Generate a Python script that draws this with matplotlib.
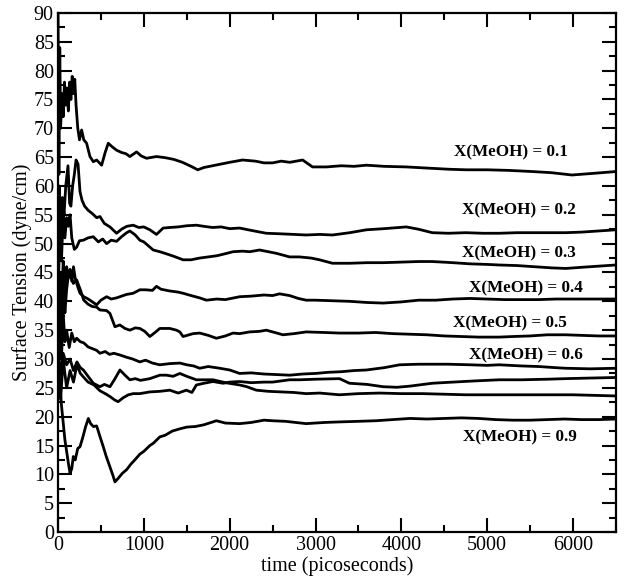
import matplotlib
matplotlib.use("Agg")
import matplotlib.pyplot as plt
from matplotlib.ticker import MultipleLocator

plt.rcParams['font.family'] = ['Liberation Serif', 'DejaVu Serif']

# running averages of surface tension
t_01 = [0, 10, 20, 30, 45, 60, 75, 90, 105, 120, 135, 150, 165, 180, 195, 210, 230, 250, 275, 300,
        333, 372, 411, 450, 508, 547, 585, 630, 682, 740, 790, 837, 915, 970, 1031, 1147, 1250, 1350,
        1450, 1550, 1628, 1700, 1800, 1900, 2000, 2150, 2300, 2400, 2500, 2600, 2700, 2850, 2965,
        3128, 3300, 3450, 3593, 3800, 4058, 4300, 4550, 4756, 5000, 5250, 5523, 5750, 5988, 6250, 6500]
y_01 = [90, 62, 84, 70, 76, 72, 78, 74, 77, 73, 78, 75, 79, 76, 78.5, 74, 70, 68, 69.7, 68,
        67.4, 65.1, 64.2, 64.5, 63.6, 65.7, 67.4, 66.8, 66.2, 65.8, 65.6, 65.1, 65.9, 65.2, 64.8, 65.1, 64.9, 64.6,
        64.1, 63.4, 62.8, 63.2, 63.5, 63.8, 64.1, 64.5, 64.3, 64.0, 64.0, 64.3, 64.1, 64.5, 63.3,
        63.3, 63.5, 63.4, 63.6, 63.4, 63.3, 63.1, 62.9, 62.8, 62.8, 62.7, 62.5, 62.3, 61.9, 62.2, 62.5]

t_02 = [0, 15, 30, 50, 70, 90, 116, 135, 150, 170, 190, 210, 233, 256, 280, 310, 350, 400, 450, 488,
        540, 605, 682, 740, 800, 876, 940, 1000, 1070, 1147, 1225, 1300, 1400, 1500, 1612, 1700, 1800,
        1900, 2000, 2116, 2250, 2426, 2600, 2750, 2891, 3050, 3198, 3400, 3593, 3800, 4058, 4200, 4360,
        4550, 4750, 4950, 5140, 5350, 5550, 5750, 5916, 6100, 6300, 6500]
y_02 = [45, 60, 52, 58, 55, 60, 63.5, 57, 56.5, 60, 62, 64.5, 63.8, 59, 57.5, 56.5, 55.8, 55.2, 54.5, 54.7,
        53.5, 52.9, 51.8, 52.5, 53.0, 53.2, 52.8, 52.9, 52.4, 51.6, 52.7, 52.8, 52.9, 53.1, 53.2, 53.0, 52.8,
        52.9, 52.6, 52.7, 52.3, 51.8, 51.7, 51.6, 51.5, 51.6, 51.5, 51.9, 52.4, 52.6, 52.9, 52.5, 51.9,
        51.8, 51.9, 51.8, 51.8, 51.9, 51.9, 51.9, 51.9, 52.0, 52.2, 52.4]

t_03 = [0, 20, 40, 60, 80, 100, 120, 140, 160, 190, 217, 250, 295, 350, 411, 470, 520, 566, 620, 682,
        740, 800, 837, 900, 953, 1000, 1109, 1186, 1250, 1350, 1457, 1550, 1650, 1750, 1850, 1961, 2039,
        2150, 2233, 2349, 2450, 2550, 2698, 2814, 2950, 3047, 3198, 3400, 3600, 3787, 4000, 4200, 4360,
        4600, 4800, 5000, 5140, 5350, 5550, 5750, 5916, 6100, 6300, 6500]
y_03 = [40, 52, 47, 55, 51, 54.5, 53, 55, 51, 49, 49.4, 50.5, 50.6, 51.0, 51.2, 50.3, 50.8, 50.0, 50.6, 50.4,
        51.2, 51.9, 52.2, 51.5, 50.6, 50.3, 48.9, 48.6, 48.3, 47.8, 47.2, 47.2, 47.5, 47.7, 47.9, 48.3, 48.6,
        48.7, 48.6, 48.9, 48.6, 48.3, 47.7, 47.7, 47.5, 47.2, 46.6, 46.6, 46.7, 46.7, 46.8, 46.9, 46.9,
        46.7, 46.5, 46.4, 46.3, 46.2, 46.0, 45.8, 45.7, 45.9, 46.1, 46.3]

t_04 = [0, 20, 40, 60, 80, 100, 120, 140, 160, 180, 200, 230, 256, 300, 340, 372, 410, 450, 500, 566,
        620, 682, 740, 800, 876, 953, 1020, 1100, 1147, 1200, 1300, 1400, 1457, 1550, 1650, 1729, 1850,
        1950, 2116, 2250, 2400, 2500, 2581, 2698, 2800, 2891, 3000, 3200, 3400, 3600, 3787, 4000, 4200,
        4400, 4600, 4800, 5000, 5200, 5400, 5600, 5800, 6000, 6200, 6500]
y_04 = [30, 45, 38, 47, 42, 46, 44, 45.5, 43.5, 46, 44, 42.5, 41.4, 40.8, 40.5, 40.2, 39.8, 39.4, 40.2, 40.8,
        40.4, 40.6, 40.9, 41.2, 41.4, 42.0, 42.0, 41.9, 42.6, 42.1, 41.8, 41.6, 41.4, 41.0, 40.6, 40.2, 40.4,
        40.3, 40.8, 40.9, 41.1, 41.0, 41.3, 41.0, 40.5, 40.2, 40.2, 40.1, 40.0, 39.8, 39.7, 39.9, 40.2,
        40.2, 40.4, 40.5, 40.4, 40.3, 40.3, 40.3, 40.4, 40.4, 40.4, 40.4]

t_05 = [0, 20, 40, 60, 80, 100, 120, 140, 160, 178, 217, 260, 300, 350, 400, 450, 488, 566, 605, 663,
        721, 780, 837, 900, 953, 1010, 1070, 1130, 1186, 1302, 1380, 1419, 1457, 1574, 1651, 1750, 1845,
        1950, 2039, 2116, 2233, 2350, 2426, 2550, 2620, 2750, 2891, 3100, 3279, 3500, 3700, 3900, 4100,
        4300, 4500, 4700, 4900, 5140, 5300, 5500, 5700, 5916, 6100, 6300, 6500]
y_05 = [28, 40, 36, 45, 38, 42, 44.5, 45.5, 44, 43.1, 43.7, 42, 40.2, 39.5, 39.1, 39.0, 38.5, 38.4, 37.9, 35.6,
        35.9, 35.3, 35.0, 35.4, 35.3, 34.8, 33.9, 34.6, 35.3, 35.3, 35.0, 34.7, 33.9, 34.4, 34.5, 34.1, 33.6,
        34.0, 34.5, 34.4, 34.7, 34.8, 35.0, 34.5, 34.2, 34.4, 34.7, 34.6, 34.5, 34.5, 34.6, 34.4, 34.3,
        34.2, 34.0, 33.9, 33.8, 33.8, 33.9, 34.0, 34.2, 34.2, 34.1, 34.0, 34.0]

t_06 = [0, 20, 40, 60, 80, 100, 130, 160, 190, 217, 260, 300, 350, 400, 450, 488, 550, 600, 650, 721,
        800, 870, 953, 1020, 1100, 1186, 1300, 1419, 1500, 1580, 1651, 1750, 1884, 2000, 2116, 2250, 2400,
        2550, 2700, 2850, 3000, 3150, 3300, 3450, 3593, 3800, 3980, 4200, 4400, 4540, 4800, 5000, 5140,
        5400, 5600, 5800, 5916, 6200, 6500]
y_06 = [25, 36, 30, 38, 33, 35, 32, 34.5, 33, 33.6, 33, 32.8, 32.1, 31.8, 31.5, 31.0, 31.3, 30.8, 31.0, 30.7,
        30.3, 30.0, 29.5, 29.8, 29.3, 29.0, 29.2, 29.3, 29.0, 28.8, 28.4, 28.7, 28.4, 28.1, 27.5, 27.6, 27.4,
        27.3, 27.2, 27.4, 27.5, 27.7, 27.8, 28.0, 28.1, 28.5, 29.0, 29.1, 29.1, 29.1, 29.0, 28.9, 29.0,
        28.8, 28.7, 28.5, 28.4, 28.3, 28.4]

# two middle curves with no label in the figure
t_07 = [0, 30, 60, 100, 140, 180, 220, 260, 295, 350, 420, 488, 550, 605, 660, 700, 760, 820, 876, 953,
        1070, 1186, 1302, 1400, 1496, 1560, 1612, 1700, 1806, 1922, 2000, 2116, 2250, 2400, 2500, 2600,
        2698, 2814, 3000, 3279, 3395, 3600, 3787, 3950, 4100, 4360, 4600, 4850, 5140, 5400, 5700, 5916,
        6200, 6500]
y_07 = [27, 23, 30, 25, 28, 26, 29, 27.5, 26.9, 26.0, 25.5, 24.5, 24.0, 23.5, 22.9, 22.6, 23.3, 23.8, 24.0, 24.0,
        24.3, 24.4, 24.6, 24.1, 24.6, 24.2, 25.5, 25.8, 26.1, 25.8, 26.0, 26.1, 25.9, 26.0, 26.0, 26.2,
        26.4, 26.4, 26.5, 26.6, 25.8, 25.6, 25.2, 25.1, 25.3, 25.8, 26.0, 26.2, 26.4, 26.4, 26.5, 26.6,
        26.7, 26.8]

t_08 = [0, 30, 60, 100, 140, 180, 220, 260, 295, 350, 411, 488, 540, 605, 660, 721, 780, 837, 900, 960,
        1070, 1186, 1264, 1340, 1419, 1500, 1612, 1729, 1806, 1950, 2116, 2200, 2310, 2450, 2600, 2750,
        2891, 3050, 3279, 3500, 3750, 4000, 4250, 4500, 4750, 5000, 5250, 5500, 5750, 6000, 6250, 6500]
y_08 = [32, 27, 31, 29, 30, 28, 29.5, 28.5, 28.1, 27.0, 25.8, 25.2, 25.6, 25.2, 26.5, 28.1, 27.2, 26.4, 26.6, 26.3,
        26.6, 27.2, 27.2, 27.0, 27.5, 27.0, 26.4, 26.4, 26.4, 25.9, 25.5, 25.2, 24.6, 24.4, 24.3, 24.2,
        24.0, 24.1, 23.8, 24.0, 24.1, 24.0, 24.0, 23.9, 23.8, 23.8, 23.8, 23.8, 23.8, 23.8, 23.7, 23.6]

t_09 = [0, 20, 40, 60, 80, 100, 120, 140, 160, 178, 200, 230, 256, 290, 320, 353, 380, 411, 450, 490,
        527, 560, 600, 640, 663, 700, 750, 798, 850, 900, 953, 1000, 1070, 1110, 1186, 1250, 1330, 1419,
        1500, 1600, 1700, 1845, 1950, 2116, 2250, 2400, 2500, 2650, 2891, 3100, 3279, 3500, 3700, 3900,
        4100, 4300, 4500, 4700, 4900, 5100, 5300, 5500, 5700, 5900, 6100, 6300, 6500]
y_09 = [30, 26, 22, 19, 16, 14, 12, 10.2, 11, 13.1, 12.5, 14.5, 14.8, 16.5, 18.2, 19.7, 18.8, 18.3, 18.4, 16.5,
        14.8, 13.2, 11.5, 9.8, 8.7, 9.3, 10.2, 10.8, 11.8, 12.6, 13.5, 14.0, 15.0, 15.4, 16.5, 16.8, 17.5, 17.9,
        18.2, 18.3, 18.6, 19.3, 18.9, 18.8, 19.0, 19.4, 19.3, 19.2, 18.8, 19.0, 19.1, 19.2, 19.3, 19.5,
        19.7, 19.6, 19.7, 19.8, 19.7, 19.5, 19.4, 19.4, 19.5, 19.6, 19.5, 19.5, 19.6]

labels = ['X(MeOH) = 0.1', 'X(MeOH) = 0.2', 'X(MeOH) = 0.3', 'X(MeOH) = 0.4',
          'X(MeOH) = 0.5', 'X(MeOH) = 0.6', 'X(MeOH) = 0.9']
label_t = [5275, 5372, 5372, 5450, 5267, 5450, 5384]
label_y = [65.9, 55.8, 48.3, 42.3, 36.1, 30.7, 16.5]

fig = plt.figure(figsize=(6.24, 5.86), dpi=100)
ax = fig.add_axes([0.093, 0.092, 0.894, 0.886])

curves = [(t_01, y_01), (t_02, y_02), (t_03, y_03), (t_04, y_04), (t_05, y_05),
          (t_06, y_06), (t_07, y_07), (t_08, y_08), (t_09, y_09)]
for t, y in curves:
    ax.plot(t, y, color='black', linewidth=2.0)

for txt, x, y in zip(labels, label_t, label_y):
    ax.text(x, y, txt, ha='center', va='center', fontsize=12.3, fontweight='bold')

ax.set_xlim(0, 6500)
ax.set_ylim(0, 90)
ax.xaxis.set_major_locator(MultipleLocator(1000))
ax.xaxis.set_minor_locator(MultipleLocator(500))
ax.yaxis.set_major_locator(MultipleLocator(5))
ax.yaxis.set_minor_locator(MultipleLocator(2.5))
ax.tick_params(which='both', direction='in', top=True, right=True, width=1.5, labelsize=14.5, pad=3)
ax.tick_params(which='major', length=10)
ax.tick_params(which='minor', length=5)
for s in ax.spines.values():
    s.set_linewidth(1.6)

ax.set_xlabel('time (picoseconds)', fontsize=14.5, labelpad=1)
ax.set_ylabel('Surface Tension (dyne/cm)', fontsize=14.5, labelpad=1)

fig.savefig('out.png', dpi=100)
